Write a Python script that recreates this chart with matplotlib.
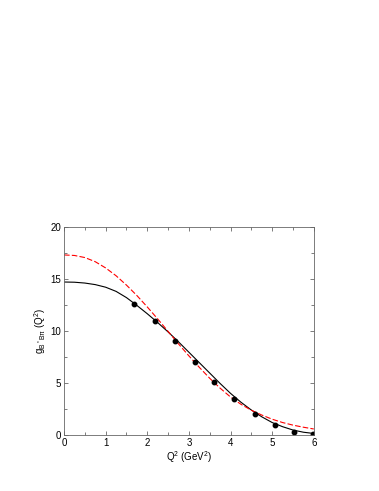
import numpy as np
import matplotlib
matplotlib.use('Agg')
import matplotlib.pyplot as plt
from matplotlib.ticker import MultipleLocator

plt.rcParams['font.family'] = ['Liberation Sans', 'DejaVu Sans']
plt.rcParams['mathtext.fontset'] = 'custom'
plt.rcParams['mathtext.rm'] = 'Liberation Sans'
plt.rcParams['mathtext.it'] = 'Liberation Sans'

# data points
q2_pts = [1.68, 2.18, 2.66, 3.14, 3.60, 4.08, 4.58, 5.06, 5.52, 5.98]
g_pts = [12.55, 11.0, 9.05, 7.0, 5.1, 3.45, 2.05, 0.98, 0.32, 0.08]

# curves
q2_curve = [0.0, 0.25, 0.5, 0.75, 1.0, 1.25, 1.5, 1.75, 2.0, 2.25, 2.5, 2.75,
            3.0, 3.25, 3.5, 3.75, 4.0, 4.25, 4.5, 4.75, 5.0, 5.25, 5.5, 5.75, 6.0]
g_solid = [14.7, 14.68, 14.6, 14.45, 14.2, 13.8, 13.2, 12.45, 11.65, 10.8, 9.9, 8.95,
           7.95, 6.95, 5.95, 4.95, 4.0, 3.15, 2.4, 1.75, 1.2, 0.8, 0.48, 0.27, 0.15]
g_dashed = [17.3, 17.25, 17.05, 16.65, 16.05, 15.3, 14.4, 13.4, 12.3, 11.15, 9.95, 8.75,
            7.6, 6.5, 5.45, 4.5, 3.65, 2.95, 2.38, 1.92, 1.52, 1.2, 0.95, 0.75, 0.58]

fig = plt.figure(figsize=(3.79, 4.91), dpi=100)
ax = fig.add_axes([0.169, 0.114, 0.659, 0.424])

ax.plot(q2_curve, g_solid, color='black', lw=0.8)
ax.plot(q2_curve, g_dashed, color='red', lw=0.8, dashes=(5, 2))
ax.plot(q2_pts, g_pts, 'o', color='black', ms=3.2)

ax.set_xlim(0, 6)
ax.set_ylim(0, 20)
ax.xaxis.set_major_locator(MultipleLocator(1))
ax.xaxis.set_minor_locator(MultipleLocator(0.5))
ax.yaxis.set_major_locator(MultipleLocator(5))
ax.yaxis.set_minor_locator(MultipleLocator(2.5))
ax.tick_params(which='both', direction='in', top=True, right=True,
               labelsize=7, color='#666666', pad=2)
ax.tick_params(which='major', length=3, width=0.6)
ax.tick_params(which='minor', length=2, width=0.6)
for s in ax.spines.values():
    s.set_color('#666666')
    s.set_linewidth(0.6)

ax.set_xlabel(r'Q$^2$ (GeV$^2$)', fontsize=7, labelpad=1)
ax.set_ylabel(r'g$_{B^*B\pi}$ (Q$^2$)', fontsize=7, labelpad=2)

fig.savefig('out.png', dpi=100)
